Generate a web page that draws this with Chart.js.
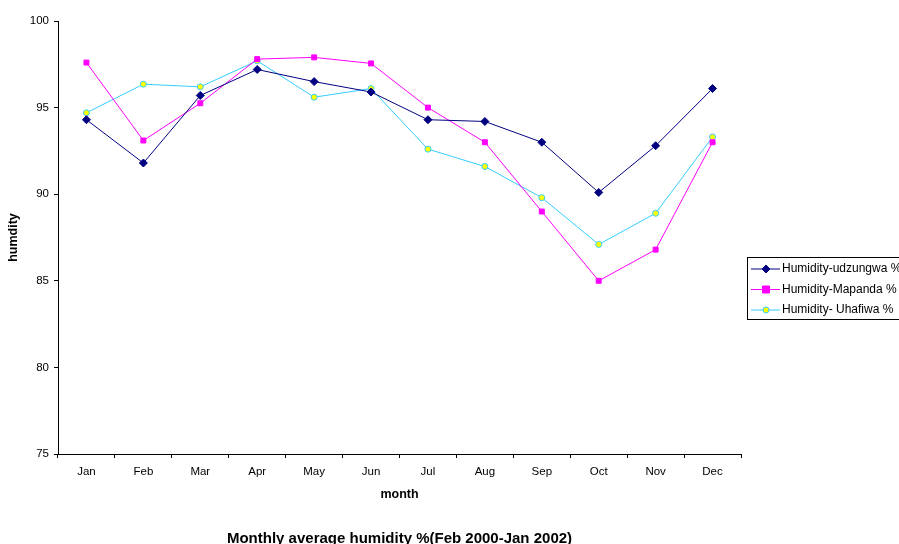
<!DOCTYPE html>
<html>
<head>
<meta charset="utf-8">
<script src="https://cdn.jsdelivr.net/npm/chart.js@4/dist/chart.umd.min.js"></script>
<style>
  html, body { margin: 0; padding: 0; background: #ffffff; }
  #wrap { width: 899px; height: 544px; }
</style>
</head>
<body>
<div id="wrap"><canvas id="c" width="899" height="544"></canvas></div>
<script>
// Monthly average relative humidity (%) at three stations
const months = ['Jan', 'Feb', 'Mar', 'Apr', 'May', 'Jun', 'Jul', 'Aug', 'Sep', 'Oct', 'Nov', 'Dec'];
const udzungwa = [94.3, 91.8, 95.7, 97.2, 96.5, 95.9, 94.3, 94.2, 93.0, 90.1, 92.8, 96.1];
const mapanda  = [97.6, 93.1, 95.25, 97.8, 97.9, 97.55, 95.0, 93.0, 89.0, 85.0, 86.8, 93.0];
const uhafiwa  = [94.7, 96.35, 96.2, 97.7, 95.6, 96.1, 92.6, 91.6, 89.8, 87.1, 88.9, 93.3];
const seriesLabels = ['Humidity-udzungwa %', 'Humidity-Mapanda %', 'Humidity- Uhafiwa %'];
const yTicks = [75, 80, 85, 90, 95, 100];

const FONT = 'Liberation Sans, Arial, sans-serif';

function drawMarker(ctx, style, x, y, r, fill, stroke) {
  ctx.save();
  ctx.fillStyle = fill;
  ctx.strokeStyle = stroke;
  ctx.lineWidth = 1;
  ctx.beginPath();
  if (style === 'rect') {
    ctx.rect(x - r, y - r, 2 * r, 2 * r);
  } else if (style === 'rectRot') {
    ctx.moveTo(x, y - r); ctx.lineTo(x + r, y); ctx.lineTo(x, y + r); ctx.lineTo(x - r, y); ctx.closePath();
  } else {
    ctx.arc(x, y, r, 0, Math.PI * 2);
  }
  ctx.fill();
  ctx.stroke();
  ctx.restore();
}

// Boxed legend to the right of the plot, drawn from the datasets
const boxLegend = {
  id: 'boxLegend',
  afterDraw(chart) {
    const ctx = chart.ctx;
    const left = 747.5, top = 257.5, width = 160, height = 62;
    ctx.save();
    ctx.fillStyle = '#ffffff';
    ctx.fillRect(left, top, width, height);
    ctx.strokeStyle = '#000000';
    ctx.lineWidth = 1;
    ctx.strokeRect(left, top, width, height);
    ctx.font = '12px ' + FONT;
    ctx.textBaseline = 'middle';
    chart.data.datasets.forEach((ds, i) => {
      const y = 269 + i * 20.5;
      ctx.strokeStyle = ds.borderColor;
      ctx.lineWidth = 1;
      ctx.beginPath();
      ctx.moveTo(751, y);
      ctx.lineTo(780, y);
      ctx.stroke();
      drawMarker(ctx, ds.pointStyle, 766, y, ds.pointRadius, ds.pointBackgroundColor, ds.pointBorderColor);
      ctx.fillStyle = '#000000';
      ctx.fillText(ds.label, 782, y);
    });
    ctx.restore();
  }
};

new Chart(document.getElementById('c'), {
  type: 'line',
  data: {
    labels: months,
    datasets: [
      {
        label: seriesLabels[0],
        data: udzungwa,
        borderColor: '#000080',
        borderWidth: 1,
        pointStyle: 'rectRot',
        pointRadius: 4,
        pointBackgroundColor: '#000080',
        pointBorderColor: '#000080',
        pointBorderWidth: 1,
        tension: 0
      },
      {
        label: seriesLabels[1],
        data: mapanda,
        borderColor: '#FF00FF',
        borderWidth: 1,
        pointStyle: 'rect',
        pointRadius: 3.5,
        pointBackgroundColor: '#FF00FF',
        pointBorderColor: '#FF00FF',
        pointBorderWidth: 1,
        tension: 0
      },
      {
        label: seriesLabels[2],
        data: uhafiwa,
        borderColor: '#33CCFF',
        borderWidth: 1,
        pointStyle: 'circle',
        pointRadius: 3,
        pointBackgroundColor: '#FFFF00',
        pointBorderColor: '#33CCFF',
        pointBorderWidth: 1,
        tension: 0
      }
    ]
  },
  options: {
    responsive: false,
    animation: false,
    layout: { padding: { left: 0, right: 158, top: 21, bottom: 0 } },
    plugins: {
      legend: { display: false },
      tooltip: { enabled: false },
      title: {
        display: true,
        position: 'bottom',
        fullSize: false,
        text: 'Monthly average humidity %(Feb 2000-Jan 2002)',
        color: '#000000',
        font: { family: FONT, size: 15, weight: 'bold', lineHeight: 0.7 },
        padding: { top: 0, bottom: 0 }
      }
    },
    scales: {
      x: {
        offset: true,
        grid: {
          offset: true,
          drawOnChartArea: false,
          drawTicks: true,
          tickLength: 4,
          color: '#000000'
        },
        border: { display: true, color: '#000000', width: 1 },
        ticks: {
          color: '#000000',
          font: { family: FONT, size: 11.5 },
          padding: 6.5,
          maxRotation: 0,
          autoSkip: false
        },
        title: {
          display: true,
          text: 'month',
          color: '#000000',
          font: { family: FONT, size: 12.5, weight: 'bold', lineHeight: 1.2 },
          padding: { top: 0, bottom: 31.5 }
        },
        afterFit(scale) { scale.height = 79.5; }
      },
      y: {
        min: 75,
        max: 100,
        afterBuildTicks(scale) { scale.ticks = yTicks.map(v => ({ value: v })); },
        grid: {
          drawOnChartArea: false,
          drawTicks: true,
          tickLength: 4,
          color: '#000000'
        },
        border: { display: true, color: '#000000', width: 1 },
        ticks: {
          color: '#000000',
          font: { family: FONT, size: 11.5 },
          padding: 5
        },
        title: {
          display: true,
          text: 'humdity',
          color: '#000000',
          font: { family: FONT, size: 12.5, weight: 'bold', lineHeight: 1.2 },
          padding: { top: 6.5, bottom: 0 }
        },
        afterFit(scale) { scale.width = 58; }
      }
    }
  },
  plugins: [boxLegend]
});
</script>
</body>
</html>
